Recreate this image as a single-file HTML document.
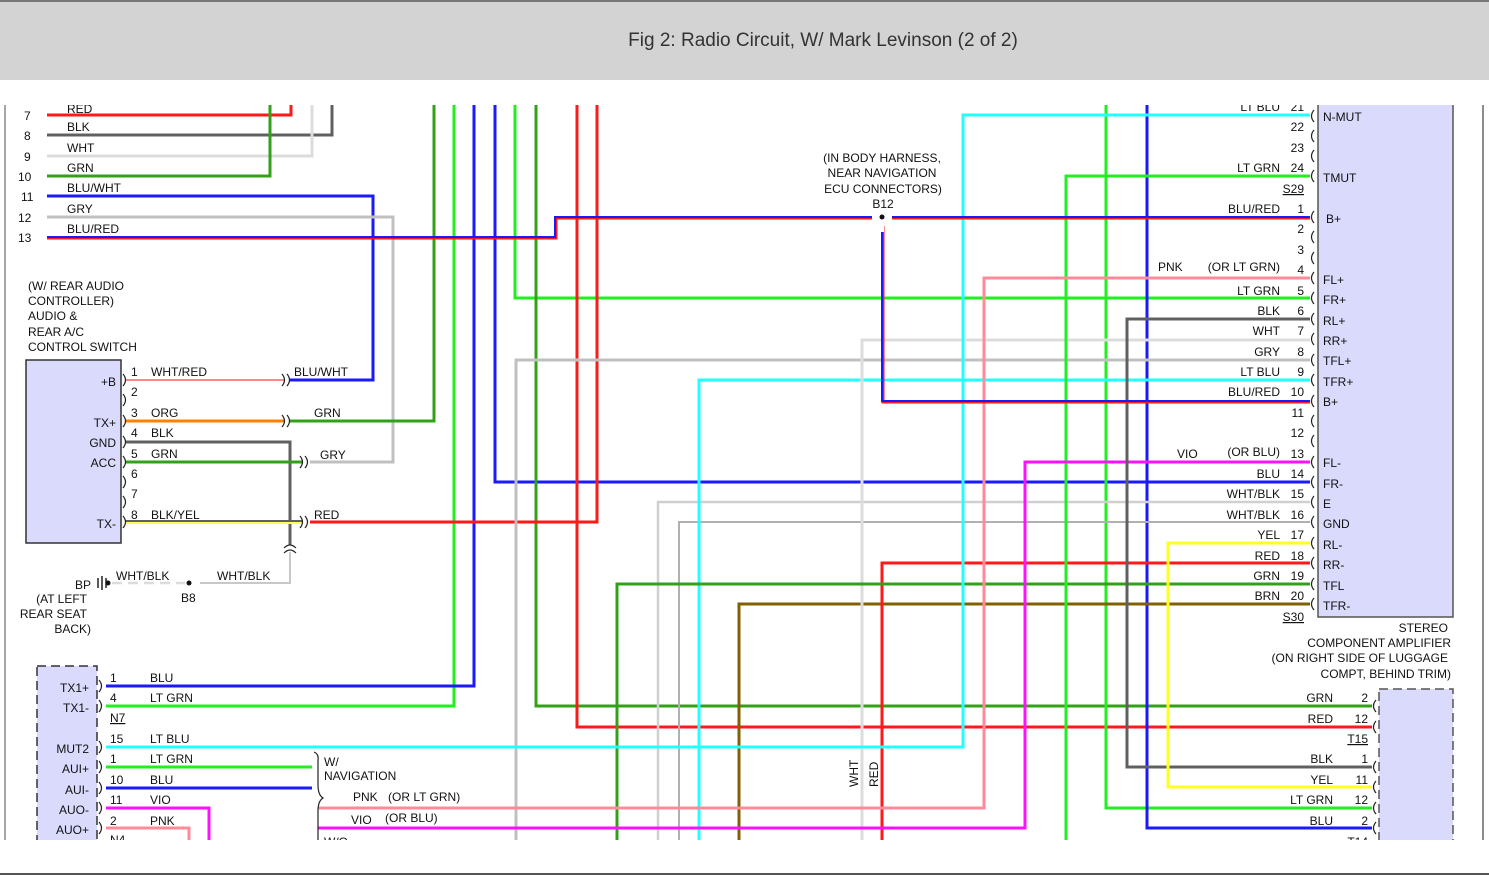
<!DOCTYPE html>
<html><head><meta charset="utf-8"><style>
html,body{margin:0;padding:0;background:#fff;}
body{width:1489px;height:876px;overflow:hidden;position:relative;font-family:"Liberation Sans",sans-serif;}
#hdr{position:absolute;left:0;top:0;width:1489px;height:80px;background:#d3d3d3;border-top:2px solid #777;box-sizing:border-box;}
#hdr div{position:absolute;left:0;width:1646px;top:28px;text-align:center;font-size:19px;color:#333;}
svg{position:absolute;left:0;top:0;}
svg text{font-family:"Liberation Sans",sans-serif;font-size:12px;fill:#111;}
</style></head><body>
<div id="hdr"><div>Fig 2: Radio Circuit, W/ Mark Levinson (2 of 2)</div></div>
<svg width="1489" height="876" viewBox="0 0 1489 876">
<defs><clipPath id="c"><rect x="0" y="105" width="1489" height="735"/></clipPath></defs>
<line x1="0" y1="874" x2="1489" y2="874" stroke="#555" stroke-width="2"/>
<g clip-path="url(#c)" fill="none" stroke-width="3">
<line x1="5" y1="100" x2="5" y2="840" stroke="#888" stroke-width="1.5"/>
<line x1="1483" y1="100" x2="1483" y2="840" stroke="#666" stroke-width="1.5"/>
<rect x="1318" y="95" width="135" height="522" fill="#dadafc" stroke="#555" stroke-width="1.5"/>
<rect x="1379" y="689" width="74" height="170" fill="#dadafc" stroke="#555" stroke-width="1.5" stroke-dasharray="9,5"/>
<rect x="26" y="360" width="95" height="183" fill="#dadafc" stroke="#333" stroke-width="1.5"/>
<rect x="37" y="666" width="60" height="190" fill="#dadafc" stroke="#333" stroke-width="1.5" stroke-dasharray="9,5"/>
<polyline points="47,115 291,115 291,95" stroke="#ff1a1a"/>
<polyline points="47,135 332,135 332,95" stroke="#606060"/>
<polyline points="47,156 312,156 312,95" stroke="#dcdcdc"/>
<polyline points="47,176 270,176 270,95" stroke="#33a01a"/>
<polyline points="47,196 373,196 373,380 290,380" stroke="#1a1aff"/>
<polyline points="47,217 393,217 393,462 310,462" stroke="#c0c0c0"/>
<polyline points="434,95 434,421 290,421" stroke="#33a01a"/>
<polyline points="454,95 454,706 106,706" stroke="#22ee22"/>
<polyline points="474,95 474,686 106,686" stroke="#1a1aff"/>
<polyline points="495,95 495,482 1310,482" stroke="#1a1aff"/>
<polyline points="515,95 515,298 1310,298" stroke="#22ee22"/>
<polyline points="536,95 536,706 1372,706" stroke="#33a01a"/>
<polyline points="577,95 577,727 1372,727" stroke="#ff1a1a"/>
<polyline points="597,95 597,522 310,522" stroke="#ff1a1a"/>
<polyline points="1106,95 1106,808 1372,808" stroke="#22ee22"/>
<polyline points="1147,95 1147,828 1372,828" stroke="#1a1aff"/>
<polyline points="1310,360 516,360 516,850" stroke="#c0c0c0"/>
<polyline points="1310,502 658,502 658,850" stroke="#d0d0d0" stroke-width="2.5"/>
<polyline points="1310,522 679,522 679,850" stroke="#b0b0b0" stroke-width="2"/>
<polyline points="1310,380 699,380 699,850" stroke="#22ffff"/>
<polyline points="1310,604 739,604 739,850" stroke="#806000"/>
<polyline points="1310,340 862,340 862,850" stroke="#dcdcdc"/>
<polyline points="1310,563 882,563 882,850" stroke="#ff1a1a"/>
<polyline points="1310,584 617,584 617,850" stroke="#33a01a"/>
<polyline points="1310,176 1066,176 1066,850" stroke="#22ee22"/>
<polyline points="1310,115 963,115 963,747 106,747" stroke="#22ffff"/>
<polyline points="1310,278 984,278 984,808 318,808" stroke="#ff8a9a"/>
<polyline points="1310,462 1025,462 1025,828 318,828" stroke="#ff11ff"/>
<polyline points="1310,319 1127,319 1127,767 1372,767" stroke="#606060"/>
<polyline points="1310,543 1168,543 1168,787 1372,787" stroke="#ffff22"/>
<polyline points="47,238 556,238 556,218 1310,218" stroke="#ff1a1a" stroke-width="3"/>
<polyline points="47,237 555,237 555,217 1310,217" stroke="#1a1aff" stroke-width="2"/>
<polyline points="883,218 883,402 1310,402" stroke="#ff1a1a" stroke-width="3"/>
<polyline points="882,218 882,401 1310,401" stroke="#1a1aff" stroke-width="2"/>
<rect x="872" y="210" width="20" height="16" fill="#fff" stroke="none"/>
<line x1="882" y1="226" x2="882" y2="232" stroke="#fff" stroke-width="4"/>
<circle cx="882" cy="217" r="2.5" fill="#111" stroke="none"/>
<line x1="125" y1="380" x2="285" y2="380" stroke="#ff8888" stroke-width="2"/>
<line x1="125" y1="421" x2="285" y2="421" stroke="#ff8000"/>
<polyline points="125,442 290,442 290,545" stroke="#606060"/>
<polyline points="290,552 290,583 200,583" stroke="#c8c8c8" stroke-width="2"/>
<line x1="112" y1="583" x2="185" y2="583" stroke="#dcdcdc" stroke-width="2.5" stroke-dasharray="10,6"/>
<line x1="125" y1="462" x2="303" y2="462" stroke="#33a01a"/>
<line x1="125" y1="523" x2="303" y2="523" stroke="#ffff55" stroke-width="2"/>
<line x1="125" y1="521" x2="303" y2="521" stroke="#606060" stroke-width="2"/>
<line x1="106" y1="767" x2="312" y2="767" stroke="#22ee22"/>
<line x1="106" y1="788" x2="312" y2="788" stroke="#1a1aff"/>
<polyline points="106,808 209,808 209,850" stroke="#ff11ff"/>
<polyline points="106,828 189,828 189,850" stroke="#ff8a9a"/>
</g>
<g clip-path="url(#c)" fill="none" stroke="#222" stroke-width="1.2">
<path d="M123,374 q5,6 0,12 M123,394 q5,6 0,12 M123,415 q5,6 0,12 M123,436 q5,6 0,12 M123,456 q5,6 0,12 M123,476 q5,6 0,12 M123,496 q5,6 0,12 M123,516 q5,6 0,12"/>
<path d="M282,374 q5,6 0,12 M287,374 q5,6 0,12 M282,415 q5,6 0,12 M287,415 q5,6 0,12 M300,456 q5,6 0,12 M305,456 q5,6 0,12 M300,516 q5,6 0,12 M305,516 q5,6 0,12"/>
<path d="M284,548 q6,-6 12,0 M284,553 q6,-6 12,0"/>
<path d="M99,680 q5,6 0,12 M99,700 q5,6 0,12 M99,741 q5,6 0,12 M99,761 q5,6 0,12 M99,782 q5,6 0,12 M99,802 q5,6 0,12 M99,822 q5,6 0,12"/>
<path d="M314,752 q5,2 4,8 v25 q0,10 5,13 q-5,3 -5,13 v40"/>
<path d="M1314,110 q-5,6 0,12 M1314,130 q-5,6 0,12 M1314,150 q-5,6 0,12 M1314,170 q-5,6 0,12 M1314,211 q-5,6 0,12 M1314,231 q-5,6 0,12 M1314,252 q-5,6 0,12 M1314,272 q-5,6 0,12 M1314,292 q-5,6 0,12 M1314,313 q-5,6 0,12 M1314,333 q-5,6 0,12 M1314,354 q-5,6 0,12 M1314,374 q-5,6 0,12 M1314,395 q-5,6 0,12 M1314,415 q-5,6 0,12 M1314,435 q-5,6 0,12 M1314,456 q-5,6 0,12 M1314,476 q-5,6 0,12 M1314,496 q-5,6 0,12 M1314,516 q-5,6 0,12 M1314,537 q-5,6 0,12 M1314,557 q-5,6 0,12 M1314,578 q-5,6 0,12 M1314,598 q-5,6 0,12"/>
<path d="M1376,700 q-5,6 0,12 M1376,721 q-5,6 0,12 M1376,761 q-5,6 0,12 M1376,781 q-5,6 0,12 M1376,802 q-5,6 0,12 M1376,822 q-5,6 0,12"/>
<path d="M98,578 v10 M102,576 v14 M106,578 v10" stroke-width="1.5"/>
</g>
<circle cx="108" cy="583" r="2.5" fill="#111"/>
<circle cx="189" cy="583" r="2.5" fill="#111"/>
<g clip-path="url(#c)">
<text x="24" y="120">7</text><text x="24" y="140">8</text><text x="24" y="161">9</text><text x="18" y="181">10</text><text x="21" y="201">11</text><text x="18" y="222">12</text><text x="18" y="242">13</text>
<text x="67" y="113">RED</text><text x="67" y="131">BLK</text><text x="67" y="152">WHT</text><text x="67" y="172">GRN</text><text x="67" y="192">BLU/WHT</text><text x="67" y="213">GRY</text><text x="67" y="233">BLU/RED</text>
<text x="28" y="290">(W/ REAR AUDIO</text><text x="28" y="305">CONTROLLER)</text><text x="28" y="320">AUDIO &amp;</text><text x="28" y="336">REAR A/C</text><text x="28" y="351">CONTROL SWITCH</text>
<g text-anchor="end"><text x="116" y="386">+B</text><text x="116" y="427">TX+</text><text x="116" y="447">GND</text><text x="116" y="467">ACC</text><text x="116" y="528">TX-</text>
<text x="91" y="589">BP</text><text x="87" y="603">(AT LEFT</text><text x="87" y="618">REAR SEAT</text><text x="91" y="633">BACK)</text>
<text x="89" y="692">TX1+</text><text x="89" y="712">TX1-</text><text x="89" y="753">MUT2</text><text x="89" y="773">AUI+</text><text x="89" y="794">AUI-</text><text x="89" y="814">AUO-</text><text x="89" y="834">AUO+</text></g>
<text x="131" y="376">1</text><text x="131" y="396">2</text><text x="131" y="417">3</text><text x="131" y="437">4</text><text x="131" y="458">5</text><text x="131" y="478">6</text><text x="131" y="498">7</text><text x="131" y="519">8</text>
<text x="151" y="376">WHT/RED</text><text x="151" y="417">ORG</text><text x="151" y="437">BLK</text><text x="151" y="458">GRN</text><text x="151" y="519">BLK/YEL</text>
<text x="294" y="376">BLU/WHT</text><text x="314" y="417">GRN</text><text x="320" y="459">GRY</text><text x="314" y="519">RED</text>
<text x="116" y="580">WHT/BLK</text><text x="217" y="580">WHT/BLK</text><text x="181" y="602">B8</text>
<text x="110" y="682">1</text><text x="110" y="702">4</text><text x="110" y="722" text-decoration="underline">N7</text><text x="110" y="743">15</text><text x="110" y="763">1</text><text x="110" y="784">10</text><text x="110" y="804">11</text><text x="110" y="825">2</text><text x="110" y="844">N4</text>
<text x="150" y="682">BLU</text><text x="150" y="702">LT GRN</text><text x="150" y="743">LT BLU</text><text x="150" y="763">LT GRN</text><text x="150" y="784">BLU</text><text x="150" y="804">VIO</text><text x="150" y="825">PNK</text>
<text x="324" y="766">W/</text><text x="324" y="780">NAVIGATION</text><text x="353" y="801">PNK</text><text x="388" y="801">(OR LT GRN)</text><text x="351" y="824">VIO</text><text x="385" y="822">(OR BLU)</text><text x="324" y="846">W/O</text>
<g text-anchor="middle"><text x="882" y="162">(IN BODY HARNESS,</text><text x="882" y="177">NEAR NAVIGATION</text><text x="883" y="193">ECU CONNECTORS)</text><text x="883" y="208">B12</text></g>
<text transform="translate(858,787) rotate(-90)">WHT</text><text transform="translate(878,787) rotate(-90)">RED</text>
<g text-anchor="end">
<text x="1280" y="111">LT BLU</text><text x="1304" y="111">21</text>
<text x="1304" y="131">22</text><text x="1304" y="152">23</text><text x="1280" y="172">LT GRN</text><text x="1304" y="172">24</text>
<text x="1304" y="193" text-decoration="underline">S29</text>
<text x="1280" y="213">BLU/RED</text><text x="1304" y="213">1</text><text x="1304" y="233">2</text><text x="1304" y="254">3</text>
<text x="1280" y="271">(OR LT GRN)</text><text x="1304" y="274">4</text>
<text x="1280" y="295">LT GRN</text><text x="1304" y="295">5</text><text x="1280" y="315">BLK</text><text x="1304" y="315">6</text>
<text x="1280" y="335">WHT</text><text x="1304" y="335">7</text><text x="1280" y="356">GRY</text><text x="1304" y="356">8</text>
<text x="1280" y="376">LT BLU</text><text x="1304" y="376">9</text><text x="1280" y="396">BLU/RED</text><text x="1304" y="396">10</text>
<text x="1304" y="417">11</text><text x="1304" y="437">12</text><text x="1280" y="456">(OR BLU)</text><text x="1304" y="458">13</text>
<text x="1280" y="478">BLU</text><text x="1304" y="478">14</text><text x="1280" y="498">WHT/BLK</text><text x="1304" y="498">15</text>
<text x="1280" y="519">WHT/BLK</text><text x="1304" y="519">16</text><text x="1280" y="539">YEL</text><text x="1304" y="539">17</text>
<text x="1280" y="560">RED</text><text x="1304" y="560">18</text><text x="1280" y="580">GRN</text><text x="1304" y="580">19</text>
<text x="1280" y="600">BRN</text><text x="1304" y="600">20</text><text x="1304" y="621" text-decoration="underline">S30</text>
<text x="1448" y="632">STEREO</text><text x="1451" y="647">COMPONENT AMPLIFIER</text><text x="1448" y="662">(ON RIGHT SIDE OF LUGGAGE</text><text x="1451" y="678">COMPT, BEHIND TRIM)</text>
<text x="1333" y="702">GRN</text><text x="1368" y="702">2</text><text x="1333" y="723">RED</text><text x="1368" y="723">12</text><text x="1368" y="743" text-decoration="underline">T15</text>
<text x="1333" y="763">BLK</text><text x="1368" y="763">1</text><text x="1333" y="784">YEL</text><text x="1368" y="784">11</text>
<text x="1333" y="804">LT GRN</text><text x="1368" y="804">12</text><text x="1333" y="825">BLU</text><text x="1368" y="825">2</text><text x="1368" y="846">T14</text>
</g>
<text x="1158" y="271">PNK</text><text x="1177" y="458">VIO</text>
<text x="1323" y="121">N-MUT</text><text x="1323" y="182">TMUT</text><text x="1326" y="223">B+</text><text x="1323" y="284">FL+</text><text x="1323" y="304">FR+</text><text x="1323" y="325">RL+</text><text x="1323" y="345">RR+</text><text x="1323" y="365">TFL+</text><text x="1323" y="386">TFR+</text><text x="1323" y="406">B+</text>
<text x="1323" y="467">FL-</text><text x="1323" y="488">FR-</text><text x="1323" y="508">E</text><text x="1323" y="528">GND</text><text x="1323" y="549">RL-</text><text x="1323" y="569">RR-</text><text x="1323" y="590">TFL</text><text x="1323" y="610">TFR-</text>
</g>
</svg>
</body></html>
